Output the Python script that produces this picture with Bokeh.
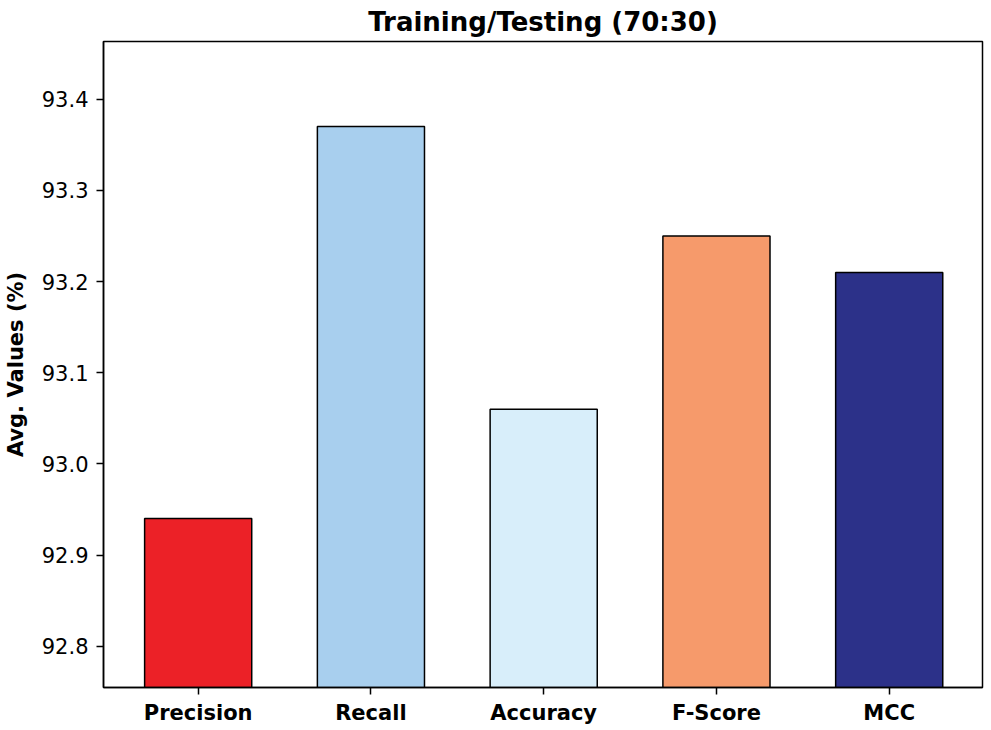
from bokeh.plotting import figure
from bokeh.models import Range1d, FixedTicker, NumeralTickFormatter, ColumnDataSource
from bokeh.embed import file_html
from bokeh.resources import INLINE

categories = ["Precision", "Recall", "Accuracy", "F-Score", "MCC"]
values = [92.94, 93.37, 93.06, 93.25, 93.21]
colors = ["#EC2127", "#A8CFEE", "#D8EEFA", "#F69A6B", "#2C3189"]
y_ticks = [92.8, 92.9, 93.0, 93.1, 93.2, 93.3, 93.4]
y_min, y_max = 92.7547, 93.4633

idx = list(range(len(categories)))
src = ColumnDataSource(dict(x=idx, top=values, color=colors,
                            bottom=[y_min - 1] * len(values)))

p = figure(width=991, height=730, output_backend="svg", toolbar_location=None,
           x_range=Range1d(-0.548, 4.54), y_range=Range1d(y_min, y_max),
           min_border_left=103, min_border_right=9, min_border_top=41, min_border_bottom=43,
           title="Training/Testing (70:30)")

p.vbar(x="x", top="top", bottom="bottom", width=0.62, fill_color="color",
       line_color="black", line_width=1.5, source=src)

p.title.text_font = "DejaVu Sans"
p.title.text_font_size = "26px"
p.title.text_font_style = "bold"
p.title.text_color = "black"
p.title.align = "center"
p.title.standoff = 9
p.title.offset = 0

p.grid.visible = False
p.outline_line_color = "black"
p.outline_line_width = 1.5
p.outline_line_alpha = 1.0

p.xaxis.ticker = FixedTicker(ticks=idx)
p.xaxis.major_label_overrides = {i: c for i, c in zip(idx, categories)}
p.yaxis.ticker = FixedTicker(ticks=y_ticks)
p.yaxis.formatter = NumeralTickFormatter(format="0.0")

for ax in (p.xaxis, p.yaxis):
    ax.axis_line_color = "black"
    ax.axis_line_width = 1.5
    ax.major_tick_line_color = "black"
    ax.major_tick_line_width = 1.5
    ax.major_tick_out = 7
    ax.major_tick_in = 0
    ax.minor_tick_out = 0
    ax.minor_tick_in = 0
    ax.major_label_text_font = "DejaVu Sans"
    ax.major_label_text_color = "black"
    ax.major_label_text_font_size = "21px"

p.xaxis.major_label_text_font_style = "bold"
p.xaxis.major_label_standoff = 6
p.yaxis.major_label_standoff = 8

p.yaxis.axis_label = "Avg. Values (%)"
p.yaxis.axis_label_text_font = "DejaVu Sans"
p.yaxis.axis_label_text_font_size = "21px"
p.yaxis.axis_label_text_font_style = "bold"
p.yaxis.axis_label_text_color = "black"
p.yaxis.axis_label_standoff = 11

open("out.html", "w").write(file_html(p, INLINE))
